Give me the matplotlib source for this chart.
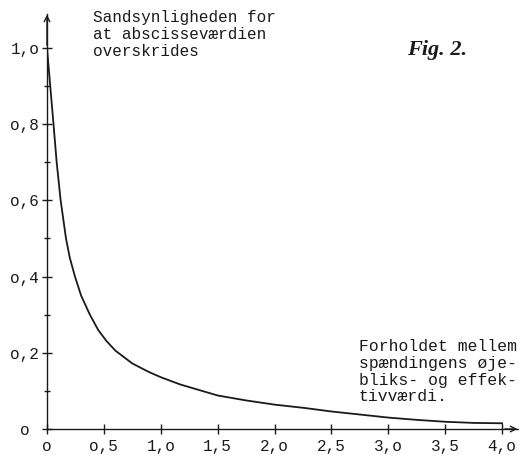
import matplotlib
matplotlib.use('Agg')
import matplotlib.pyplot as plt
from matplotlib.ticker import MultipleLocator

# curve
ratio = [0, 0.02, 0.04, 0.06, 0.085, 0.12, 0.167, 0.2, 0.246, 0.3, 0.377, 0.45, 0.52,
         0.6, 0.75, 0.9, 1.0, 1.17, 1.5, 1.75, 2.0, 2.27, 2.5, 2.75, 3.0, 3.25, 3.5,
         3.75, 4.0]
prob = [1.0, 0.93, 0.86, 0.79, 0.7, 0.6, 0.5, 0.45, 0.4, 0.35, 0.3, 0.26, 0.232,
        0.206, 0.172, 0.149, 0.136, 0.117, 0.088, 0.075, 0.064, 0.055, 0.046, 0.038,
        0.03, 0.024, 0.019, 0.016, 0.015]

xticks = [0, 0.5, 1.0, 1.5, 2.0, 2.5, 3.0, 3.5, 4.0]
xlabels = ['o', 'o,5', '1,o', '1,5', '2,o', '2,5', '3,o', '3,5', '4,o']
yticks = [0, 0.2, 0.4, 0.6, 0.8, 1.0]
ylabels = ['o ', 'o,2', 'o,4', 'o,6', 'o,8', '1,o']

ylabel_txt = 'Sandsynligheden for\nat abscisseværdien\noverskrides'
xlabel_txt = 'Forholdet mellem\nspændingens øje-\nbliks- og effek-\ntivværdi.'

mono = 'Liberation Mono'
ink = '#1a1a1a'

fig = plt.figure(figsize=(5.19, 4.55), dpi=100)
W, H = 519, 455
x0, y0 = 47, 429          # pixel position of the origin
sx, sy = 113.75, 381      # pixels per data unit
xmax, ymax = 4.15, 1.09
ax = fig.add_axes([x0 / W, (H - y0) / H, xmax * sx / W, ymax * sy / H])
ax.set_xlim(0, xmax)
ax.set_ylim(0, ymax)

ax.plot(ratio, prob, color=ink, lw=1.3)
ax.plot([ratio[-1], ratio[-1]], [prob[-1], 0], color=ink, lw=0.8)

for s in ['top', 'right']:
    ax.spines[s].set_visible(False)
for s in ['left', 'bottom']:
    ax.spines[s].set_color(ink)
    ax.spines[s].set_linewidth(1.0)

# arrow heads on the axes
ax.annotate('', xy=(4.16, 0), xytext=(4.0, 0), xycoords='data',
            arrowprops=dict(arrowstyle='->', color=ink, lw=1.0), annotation_clip=False)
ax.annotate('', xy=(0, 1.095), xytext=(0, 1.0), xycoords='data',
            arrowprops=dict(arrowstyle='->', color=ink, lw=1.0), annotation_clip=False)

ax.set_xticks(xticks)
ax.set_xticklabels(xlabels, family=mono, fontsize=11.5, color=ink)
ax.set_yticks(yticks)
ax.set_yticklabels(ylabels, family=mono, fontsize=11.5, color=ink)
ax.yaxis.set_minor_locator(MultipleLocator(0.1))
ax.tick_params(axis='both', which='major', direction='inout', length=7, width=1.0,
               color=ink)
ax.tick_params(axis='x', pad=4)
ax.tick_params(axis='y', pad=2)
ax.tick_params(axis='y', which='minor', direction='inout', length=5, width=1.0, color=ink)

fig.text(93 / W, 1 - 10 / H, ylabel_txt, family=mono, fontsize=11.5, color=ink,
         va='top', ha='left', linespacing=1.18)
fig.text(359 / W, 1 - 339 / H, xlabel_txt, family=mono, fontsize=11.8, color=ink,
         va='top', ha='left', linespacing=1.15)
fig.text(407 / W, 1 - 50 / H, 'Fig. 2.', family='Liberation Serif', style='italic',
         weight='bold', fontsize=16, color=ink, va='center', ha='left')

fig.savefig('out.png', dpi=100)
